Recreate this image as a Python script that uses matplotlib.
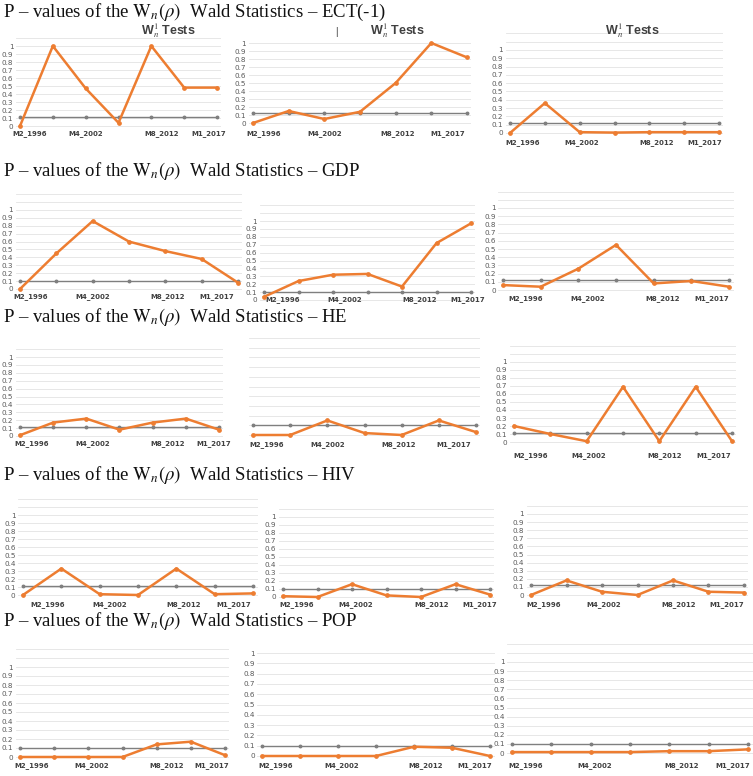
import numpy as np
import matplotlib
matplotlib.use("Agg")
import matplotlib.pyplot as plt
from matplotlib.transforms import blended_transform_factory

plt.rcParams['mathtext.fontset'] = 'stix'

W, H = 753, 776

# ---------------- data ----------------
tick_labels = ['M2_1996', 'M4_2002', 'M8_2012', 'M1_2017']
row_names = ['ECT(-1)', 'GDP', 'HE', 'HIV', 'POP']

# orange series (p-values) per row / panel
ect_1 = [0.0, 1.0, 0.47, 0.04, 1.0, 0.48, 0.48]
ect_2 = [0.0, 0.15, 0.05, 0.14, 0.50, 1.0, 0.82]
ect_3 = [0.0, 0.36, 0.01, 0.005, 0.01, 0.01, 0.01]
gdp_1 = [0.0, 0.45, 0.86, 0.60, 0.48, 0.38, 0.08]
gdp_2 = [0.04, 0.24, 0.32, 0.33, 0.17, 0.72, 0.97]
gdp_3 = [0.06, 0.04, 0.26, 0.55, 0.08, 0.11, 0.04]
he_1 = [0.01, 0.17, 0.22, 0.08, 0.17, 0.22, 0.08]
he_2 = [0.0, 0.0, 0.15, 0.02, 0.0, 0.15, 0.03]
he_3 = [0.20, 0.10, 0.01, 0.69, 0.01, 0.69, 0.01]
hiv_1 = [0.0, 0.33, 0.01, 0.0, 0.33, 0.01, 0.02]
hiv_2 = [0.01, 0.0, 0.16, 0.02, 0.0, 0.16, 0.03]
hiv_3 = [0.0, 0.18, 0.04, 0.0, 0.18, 0.04, 0.03]
pop_1 = [0.0, 0.0, 0.0, 0.0, 0.14, 0.17, 0.02]
pop_2 = [0.0, 0.0, 0.0, 0.0, 0.09, 0.08, 0.0]
pop_3 = [0.01, 0.01, 0.01, 0.01, 0.02, 0.02, 0.04]

# grey 10% reference series
ref_ect_1 = [0.11, 0.11, 0.11, 0.11, 0.11, 0.11, 0.11]
ref_ect_2 = [0.12, 0.12, 0.12, 0.12, 0.12, 0.12, 0.12]
ref_ect_3 = [0.12, 0.12, 0.12, 0.12, 0.12, 0.12, 0.12]
ref_gdp_1 = [0.10, 0.10, 0.10, 0.10, 0.10, 0.10, 0.10]
ref_gdp_2 = [0.10, 0.10, 0.10, 0.10, 0.10, 0.10, 0.10]
ref_gdp_3 = [0.12, 0.12, 0.12, 0.12, 0.12, 0.12, 0.12]
ref_he_1 = [0.12, 0.12, 0.12, 0.12, 0.12, 0.12, 0.12]
ref_he_2 = [0.10, 0.10, 0.10, 0.10, 0.10, 0.10, 0.10]
ref_he_3 = [0.11, 0.11, 0.11, 0.11, 0.11, 0.11, 0.11]
ref_hiv_1 = [0.11, 0.11, 0.11, 0.11, 0.11, 0.11, 0.11]
ref_hiv_2 = [0.10, 0.10, 0.10, 0.10, 0.10, 0.10, 0.10]
ref_hiv_3 = [0.12, 0.12, 0.12, 0.12, 0.12, 0.12, 0.12]
ref_pop_1 = [0.10, 0.10, 0.10, 0.10, 0.10, 0.10, 0.10]
ref_pop_2 = [0.10, 0.10, 0.10, 0.10, 0.10, 0.10, 0.10]
ref_pop_3 = [0.10, 0.10, 0.10, 0.10, 0.10, 0.10, 0.10]

series = [[ect_1, ect_2, ect_3], [gdp_1, gdp_2, gdp_3], [he_1, he_2, he_3],
          [hiv_1, hiv_2, hiv_3], [pop_1, pop_2, pop_3]]
refs = [[ref_ect_1, ref_ect_2, ref_ect_3], [ref_gdp_1, ref_gdp_2, ref_gdp_3],
        [ref_he_1, ref_he_2, ref_he_3], [ref_hiv_1, ref_hiv_2, ref_hiv_3],
        [ref_pop_1, ref_pop_2, ref_pop_3]]

# ---------------- layout (pixels) ----------------
# px0, px6, py0 (value 0), py1 (value 1), grid top value, label y, label x positions, show y labels
layout = [
    [(20, 217, 126, 46, 1.1, 134, [0.3, 2.0, 4.3, 5.75], True),
     (253, 467, 123, 43, 1.05, 134, [0.3, 2.0, 4.05, 5.45], True),
     (510, 719, 133, 50, 1.2, 143, [0.35, 2.05, 4.2, 5.6], True)],
    [(20, 238, 289, 210, 1.2, 297, [0.3, 2.0, 4.05, 5.4], True),
     (264, 471, 300, 221, 1.2, 300, [0.55, 2.35, 4.5, 5.9], True),
     (503, 729, 290, 208, 1.2, 299, [0.6, 2.25, 4.25, 5.55], True)],
    [(20, 219, 436, 357, 1.12, 444, [0.35, 2.2, 4.45, 5.85], True),
     (253, 476, 435, 338, 1.0, 445, [0.38, 2.0, 3.93, 5.4], False),
     (514, 732, 442, 362, 1.2, 456, [0.45, 2.05, 4.15, 5.5], True)],
    [(23, 253, 595, 515, 1.25, 605, [0.65, 2.25, 4.2, 5.5], True),
     (283, 490, 597, 517, 1.15, 605, [0.4, 2.1, 4.3, 5.7], True),
     (531, 744, 595, 514, 1.17, 605, [0.35, 2.05, 4.15, 5.5], True)],
    [(20, 225, 757, 667, 1.2, 766, [0.35, 2.1, 4.3, 5.6], True),
     (262, 490, 756, 653, 1.05, 766, [0.35, 2.1, 4.3, 5.6], True),
     (512, 748, 753, 662, 1.2, 766, [0.35, 2.1, 4.3, 5.6], True)],
]
title_y = [12, 171, 317, 475, 621]

ORANGE = '#ED7D31'
GREY = '#7F7F7F'

fig = plt.figure(figsize=(W / 100, H / 100), dpi=100)
fig.patch.set_facecolor('white')

x = np.arange(7)
for r in range(5):
    fig.text(3 / W, 1 - title_y[r] / H,
             r'P – values of the $\mathrm{W}_{n}(\rho)$  Wald Statistics – ' + row_names[r],
             family='Liberation Serif', fontsize=13.5, va='center', ha='left', color='#111111')
    for c in range(3):
        px0, px6, py0, py1, gtop, ly, lpos, showy = layout[r][c]
        dx = (px6 - px0) / 6.0
        s = (py0 - py1)  # px per unit
        xmin, xmax = -0.12, 6.12
        ybot = -0.06
        left = px0 + xmin * dx
        right = px0 + xmax * dx
        bottom = py0 - ybot * s
        top = py0 - (gtop + 0.02) * s
        ax = fig.add_axes([left / W, 1 - bottom / H, (right - left) / W, (bottom - top) / H])
        ax.set_xlim(xmin, xmax)
        ax.set_ylim(ybot, gtop + 0.02)
        for sp in ax.spines.values():
            sp.set_visible(False)
        yt = list(np.round(np.arange(0, gtop + 0.001, 0.1), 2))
        ax.set_yticks(yt)
        if showy:
            ax.set_yticklabels(['0' if v == 0 else ('1' if v == 1 else (f'{v:g}' if v < 1 else '')) for v in yt])
        else:
            ax.set_yticklabels([])
        ax.tick_params(axis='y', length=0, labelsize=5.2, labelcolor='#595959', pad=2)
        ax.set_xticks([])
        ax.grid(axis='y', color='#E3E3E3', linewidth=0.6)
        ax.set_axisbelow(True)
        ax.plot(x, refs[r][c], color=GREY, lw=1.0, marker='o', ms=1.8, clip_on=False, zorder=3)
        ax.plot(x, series[r][c], color=ORANGE, lw=1.8, marker='o', ms=2.4, clip_on=False, zorder=4)
        tr = blended_transform_factory(ax.transData, fig.transFigure)
        for lp, lab in zip(lpos, tick_labels):
            ax.text(lp, 1 - ly / H, lab, transform=tr, ha='center', va='center',
                    fontsize=5.0, fontweight='bold', color='#404040', family='DejaVu Sans')

# subtitles of first row
for xc in (168, 397, 632):
    fig.text(xc / W, 1 - 31 / H, r'$\mathregular{W}_n^1$ Tests', family='Liberation Sans',
             fontsize=9, ha='center', va='center', color='#404040', fontweight='bold')
fig.text(336 / W, 1 - 32 / H, '|', family='Liberation Sans', fontsize=7, ha='center', va='center', color='#333333')

fig.savefig('out.png', dpi=100, facecolor='white')
